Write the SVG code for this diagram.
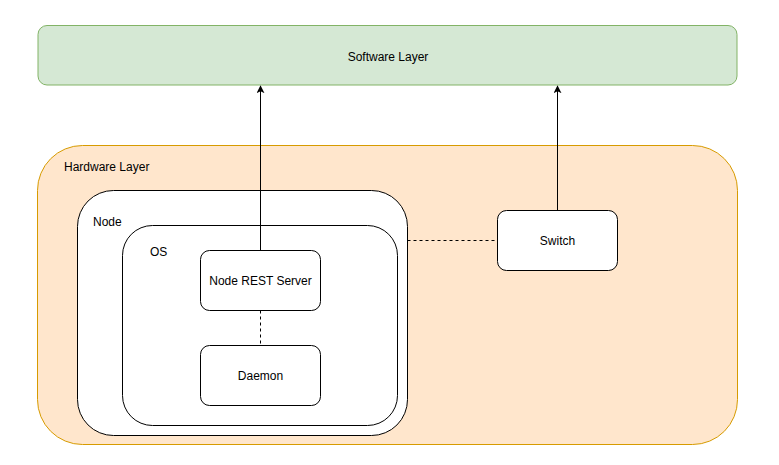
<svg xmlns="http://www.w3.org/2000/svg" width="779" height="465" viewBox="0 0 779 465">
<defs>
<style>
.lbl{font-family:"Liberation Sans",Arial,Helvetica,sans-serif;font-size:12px;fill:#000}
.box{fill:#fff;stroke:#000;stroke-width:1}
.edge{fill:none;stroke:#000;stroke-width:1}
.dash{stroke-dasharray:3 3}
</style>
<marker id="arr" viewBox="0 0 10 10" refX="9" refY="5" markerWidth="8" markerHeight="8" markerUnits="userSpaceOnUse" orient="auto">
<path d="M0,0 L10,5 L0,10 L2.5,5 Z" fill="#000"/>
</marker>
</defs>
<rect width="779" height="465" fill="#fff"/>
<g id="software-layer">
<rect x="38" y="25.5" width="699" height="59.5" rx="9" fill="#d5e8d4" stroke="#82b366"/>
<text class="lbl" x="388" y="60.5" text-anchor="middle">Software Layer</text>
</g>
<g id="hardware-layer">
<rect x="37.5" y="145.5" width="700" height="299" rx="45" fill="#ffe6cc" stroke="#d79b00"/>
<text class="lbl" x="64" y="170.5">Hardware Layer</text>
</g>
<g id="node">
<rect class="box" x="77.5" y="190.5" width="330" height="245" rx="36"/>
<text class="lbl" x="93" y="225.5">Node</text>
</g>
<g id="os">
<rect class="box" x="122.5" y="225.5" width="275" height="200" rx="30"/>
<text class="lbl" x="150" y="255.5">OS</text>
</g>
<g id="node-rest-server">
<rect class="box" x="200.5" y="250.5" width="120" height="60" rx="9"/>
<text class="lbl" x="260.5" y="285" text-anchor="middle">Node REST Server</text>
</g>
<g id="daemon">
<rect class="box" x="200.5" y="345.5" width="120" height="60" rx="9"/>
<text class="lbl" x="260.5" y="380" text-anchor="middle">Daemon</text>
</g>
<g id="switch">
<rect class="box" x="497.5" y="210.5" width="120" height="60" rx="9"/>
<text class="lbl" x="557.5" y="245" text-anchor="middle">Switch</text>
</g>
<g id="connectors">
<line class="edge" x1="260.5" y1="250.5" x2="260.5" y2="86" marker-end="url(#arr)"/>
<line class="edge" x1="557.5" y1="210.5" x2="557.5" y2="86" marker-end="url(#arr)"/>
<line class="edge dash" x1="407.5" y1="240.5" x2="497.5" y2="240.5"/>
<line class="edge dash" x1="260.5" y1="310.5" x2="260.5" y2="345.5"/>
</g>
</svg>
